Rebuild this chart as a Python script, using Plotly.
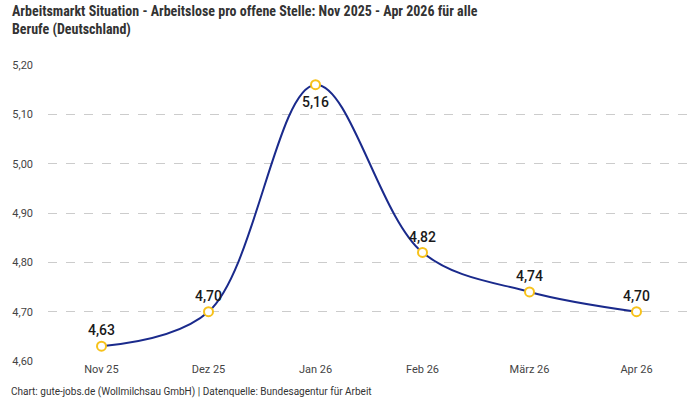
import plotly.graph_objects as go

months = ["Nov 25", "Dez 25", "Jan 26", "Feb 26", "März 26", "Apr 26"]
values = [4.63, 4.70, 5.16, 4.82, 4.74, 4.70]
label_pos = ["top center", "top center", "bottom center", "top center", "top center", "top center"]
y_ticks = [4.6, 4.7, 4.8, 4.9, 5.0, 5.1, 5.2]

fig = go.Figure()
fig.add_trace(go.Scatter(
    x=months, y=values,
    mode="lines+markers",
    line=dict(color="#1a2a8c", width=2, shape="spline", smoothing=1.0),
    marker=dict(size=9, color="white", line=dict(color="#f7c21b", width=2)),
    cliponaxis=False,
    hoverinfo="skip",
))
fig.add_trace(go.Scatter(
    x=months, y=values,
    mode="markers+text",
    marker=dict(size=[10 if p.startswith("top") else 17 for p in label_pos], opacity=0),
    text=[f"{v:.2f}".replace(".", ",") for v in values],
    textposition=label_pos,
    textfont=dict(family="Roboto", size=14, color="#1a1a1a", weight=500),
    cliponaxis=False,
    hoverinfo="skip",
))

fig.update_layout(
    width=700, height=400,
    margin=dict(l=48, r=10, t=65, b=39),
    paper_bgcolor="white", plot_bgcolor="white",
    separators=",.",
    showlegend=False,
    annotations=[
        dict(
            text="<b>Arbeitsmarkt Situation - Arbeitslose pro offene Stelle: Nov 2025 - Apr 2026 für alle<br>Berufe (Deutschland)</b>",
            xref="paper", yref="paper", x=-0.059, y=1.215, xanchor="left", yanchor="top",
            align="left", showarrow=False,
            font=dict(family="Roboto Condensed", size=14, color="#333333"),
        ),
        dict(
            text="Chart: gute-jobs.de (Wollmilchsau GmbH) | Datenquelle: Bundesagentur für Arbeit",
            xref="paper", yref="paper", x=-0.06, y=-0.105, xanchor="left", yanchor="middle",
            showarrow=False, font=dict(family="Roboto", size=10, color="#333333"),
        ),
    ],
)
fig.update_xaxes(
    type="category", range=[-0.5, 5.5], showgrid=False, showline=False, zeroline=False,
    ticks="", tickfont=dict(family="Roboto", size=11, color="#444444"),
)
fig.update_yaxes(
    range=[4.6, 5.2], tickvals=y_ticks, tickformat=".2f",
    showgrid=True, gridcolor="#cccccc", griddash="dash", gridwidth=1,
    zeroline=False, showline=False, ticks="", ticklabelstandoff=14,
    tickfont=dict(family="Roboto", size=11, color="#444444"),
)

fig.write_html("out.html")
